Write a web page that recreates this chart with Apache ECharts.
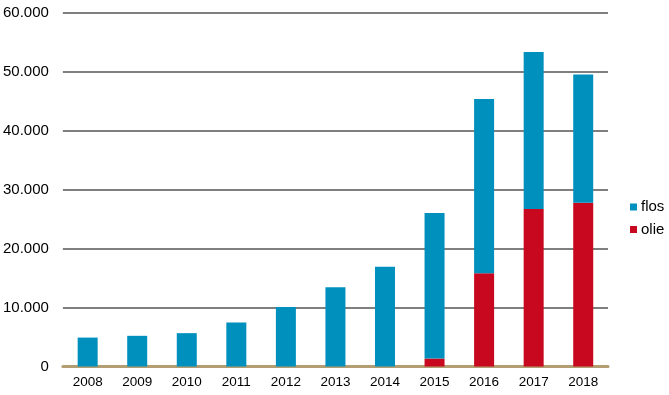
<!DOCTYPE html>
<html><head><meta charset="utf-8">
<script src="https://cdn.jsdelivr.net/npm/echarts@6/dist/echarts.min.js"></script>
<style>html,body{margin:0;padding:0;background:#fff}#c{width:669px;height:395px}</style>
</head><body><div id="c"></div>
<script>
const categories = ['2008','2009','2010','2011','2012','2013','2014','2015','2016','2017','2018'];
const olie = [0,0,0,0,0,0,0,1350,15800,26700,27750];
const flos = [4900,5200,5650,7450,10100,13450,16900,24650,29550,26600,21750];
const yTicks = [0,10000,20000,30000,40000,50000,60000];

const fmt = v => v === 0 ? '0' : String(v).replace(/\B(?=(\d{3})+(?!\d))/g, '.');
const chart = echarts.init(document.getElementById('c'), null, {renderer:'canvas'});
chart.setOption({
  animation:false,
  textStyle:{fontFamily:'Liberation Sans, Arial, sans-serif'},
  grid:{left:62, right:61, top:12.5, bottom:28.5, containLabel:false},
  legend:{
    data:['flos','olie'], orient:'vertical', left:625, top:194.5,
    itemWidth:7, itemHeight:7, itemGap:7.5, icon:'rect',
    textStyle:{fontSize:15, lineHeight:15, color:'#000', padding:[0,0,0,-1]}
  },
  xAxis:{
    type:'category', data:categories,
    axisLine:{lineStyle:{color:'#b39e73', width:3}},
    axisTick:{show:false},
    axisLabel:{color:'#000', fontSize:13.5, margin:9}
  },
  yAxis:{
    type:'value', min:yTicks[0], max:yTicks[yTicks.length-1], interval:10000,
    axisLine:{show:false}, axisTick:{show:false},
    axisLabel:{color:'#000', fontSize:15, margin:14, formatter:fmt},
    splitLine:{lineStyle:{color:'#7f7f7f', width:2}}
  },
  series:[
    {name:'olie', type:'bar', stack:'s', data:olie, barWidth:20, itemStyle:{color:'#c8081e'}},
    {name:'flos', type:'bar', stack:'s', data:flos, barWidth:20, itemStyle:{color:'#0090be'}}
  ]
});
</script></body></html>
